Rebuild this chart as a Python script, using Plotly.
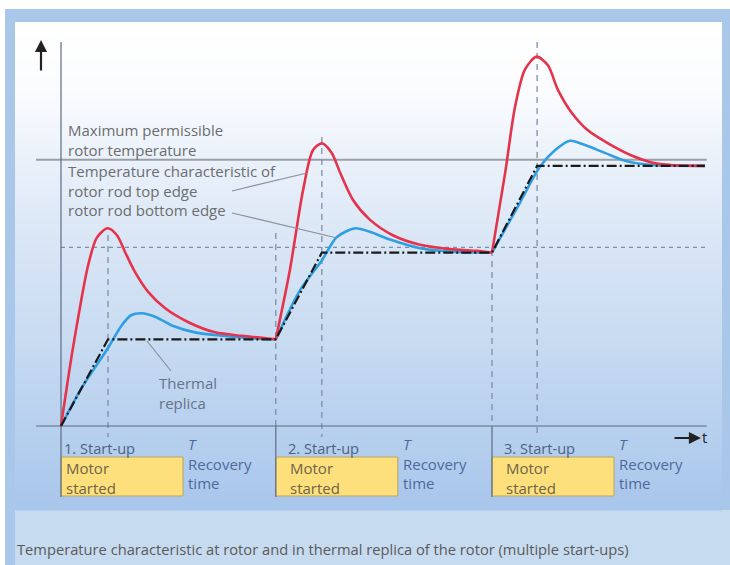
import plotly.graph_objects as go

# ---------------- data ----------------
# time in relative units (start-up ramp ~1 unit), temperature in relative units (1 step per start-up)
startups = [0.0, 4.57, 9.17]
startup_labels = ["1. Start-up", "2. Start-up", "3. Start-up"]
run_end = [1.0, 5.55, 10.13]
t_end = 13.70

red_t = [0, 0.23, 0.44, 0.58, 0.76, 0.99, 1.19, 1.36, 1.57, 1.85, 2.21, 2.70, 3.28, 3.85, 4.40, 4.57, None,
         4.57, 4.87, 5.15, 5.36, 5.55, 5.76, 5.94, 6.21, 6.57, 7.06, 7.64, 8.28, 8.85, 9.17, None,
         9.17, 9.45, 9.66, 9.87, 10.12, 10.36, 10.57, 10.87, 11.21, 11.64, 12.14, 12.57, 12.99, 13.70]
red_T = [0, 0.82, 1.48, 1.86, 2.17, 2.28, 2.20, 2.01, 1.78, 1.55, 1.36, 1.20, 1.08, 1.04, 1.01, 1.0, None,
         1.0, 1.80, 2.72, 3.18, 3.26, 3.15, 2.92, 2.61, 2.38, 2.20, 2.09, 2.04, 2.02, 2.0, None,
         2.0, 2.92, 3.68, 4.11, 4.26, 4.16, 3.88, 3.61, 3.41, 3.26, 3.12, 3.04, 3.01, 3.0]

blue_t = [0, 0.44, 1.0, 1.29, 1.50, 1.72, 2.0, 2.36, 2.85, 3.43, 4.13, 4.57, None,
          4.57, 5.09, 5.55, 5.87, 6.26, 6.57, 7.0, 7.64, 8.34, 9.17, None,
          9.17, 9.72, 10.19, 10.51, 10.83, 11.15, 11.57, 12.06, 12.57, 13.70]
blue_T = [0, 0.44, 0.90, 1.16, 1.28, 1.30, 1.26, 1.16, 1.08, 1.04, 1.01, 1.0, None,
          1.0, 1.57, 1.91, 2.18, 2.28, 2.24, 2.15, 2.05, 2.01, 2.0, None,
          2.0, 2.53, 2.99, 3.18, 3.29, 3.24, 3.15, 3.05, 3.01, 3.0]

replica_t = [0, 1.0, 4.57, 5.55, 9.17, 10.13, 13.70]
replica_T = [0, 1, 1, 2, 2, 3, 3]

max_permissible_T = 3.07
dashed_level_T = 2.06

caption = "Temperature characteristic at rotor and in thermal replica of the rotor (multiple start-ups)"

# ---------------- layout helpers ----------------
W, H = 730, 565
X0_PX, X_SCALE = 61.0, 47.0      # t = 0 at pixel 61, 47 px per unit
Y0_PX, Y_SCALE = 426.0, 86.7     # T = 0 at pixel 426, 86.7 px per unit
x_range = [-X0_PX / X_SCALE, (W - X0_PX) / X_SCALE]
y_range = [(Y0_PX - H) / Y_SCALE, Y0_PX / Y_SCALE]

def px(x):
    return x / W

def py(y):
    return 1 - y / H

def T_of(ypix):
    return (Y0_PX - ypix) / Y_SCALE

FONT = "Open Sans, Liberation Sans, Arial, sans-serif"

fig = go.Figure()

fig.add_trace(go.Scatter(x=blue_t, y=blue_T, mode="lines",
                         line=dict(color="#2f9fe2", width=2.6, shape="spline", smoothing=0.8),
                         connectgaps=False, hoverinfo="skip", name="rotor rod bottom edge"))
fig.add_trace(go.Scatter(x=red_t, y=red_T, mode="lines",
                         line=dict(color="#e5334b", width=2.6, shape="spline", smoothing=0.8),
                         connectgaps=False, hoverinfo="skip", name="rotor rod top edge"))
fig.add_trace(go.Scatter(x=replica_t, y=replica_T, mode="lines",
                         line=dict(color="#1a1a1a", width=2.2, dash="10px,3px,2px,3px"),
                         hoverinfo="skip", name="Thermal replica"))

shapes = []

# frame & background
shapes.append(dict(type="rect", xref="paper", yref="paper", x0=px(5), x1=px(730), y0=py(565), y1=py(9),
                   fillcolor="#a9c7e8", line=dict(width=0), layer="below"))
shapes.append(dict(type="rect", xref="paper", yref="paper", x0=px(15), x1=px(730), y0=py(565), y1=py(510),
                   fillcolor="#c6daf0", line=dict(width=0), layer="below"))

stops = [(22, (255, 255, 255)), (90, (251, 252, 254)), (160, (234, 241, 250)), (250, (216, 229, 245)),
         (350, (198, 218, 241)), (430, (183, 208, 238)), (510, (168, 198, 235))]

def grad_color(y):
    for (ya, ca), (yb, cb) in zip(stops[:-1], stops[1:]):
        if ya <= y <= yb:
            f = (y - ya) / (yb - ya)
            c = [round(ca[i] + (cb[i] - ca[i]) * f) for i in range(3)]
            return "rgb(%d,%d,%d)" % tuple(c)
    return "rgb(%d,%d,%d)" % stops[-1][1]

ystep = 4
yy = 22
while yy < 510:
    y2 = min(yy + ystep, 510)
    shapes.append(dict(type="rect", xref="paper", yref="paper", x0=px(15), x1=px(722),
                       y0=py(y2 + 0.6), y1=py(yy), fillcolor=grad_color((yy + y2) / 2),
                       line=dict(width=0), layer="below"))
    yy = y2

AX = "#5d6c86"
DASH = "#7f8ea8"

# maximum permissible temperature line
shapes.append(dict(type="line", xref="x", yref="y", x0=(36 - X0_PX) / X_SCALE, x1=t_end + 0.04,
                   y0=max_permissible_T, y1=max_permissible_T,
                   line=dict(color="#9b9fa6", width=2), layer="below"))
# dashed level
shapes.append(dict(type="line", xref="x", yref="y", x0=0, x1=t_end + 0.04,
                   y0=dashed_level_T, y1=dashed_level_T,
                   line=dict(color=DASH, width=1.3, dash="4px,4px"), layer="below"))

# vertical dashed lines at ramp ends
ramp_tops = [235, 137, 42]
for xe, top in zip(run_end, ramp_tops):
    shapes.append(dict(type="line", xref="x", yref="y", x0=xe, x1=xe, y0=T_of(top), y1=T_of(437),
                       line=dict(color=DASH, width=1.3, dash="6px,5px"), layer="below"))
# vertical dashed at start-ups 2 and 3
start_tops = [233, 250]
for xs, top in zip(startups[1:], start_tops):
    shapes.append(dict(type="line", xref="x", yref="y", x0=xs, x1=xs, y0=T_of(top), y1=0,
                       line=dict(color=DASH, width=1.3, dash="6px,5px"), layer="below"))
    shapes.append(dict(type="line", xref="x", yref="y", x0=xs, x1=xs, y0=0, y1=T_of(497),
                       line=dict(color=AX, width=1.2), layer="below"))

# axes
shapes.append(dict(type="line", xref="x", yref="y", x0=0, x1=0, y0=T_of(42), y1=T_of(497),
                   line=dict(color=AX, width=1.2), layer="below"))
shapes.append(dict(type="line", xref="x", yref="y", x0=(36 - X0_PX) / X_SCALE, x1=t_end + 0.04, y0=0, y1=0,
                   line=dict(color=AX, width=1.2), layer="below"))

# boxes "Motor started"
box_w = 122 / X_SCALE
for xs in startups:
    shapes.append(dict(type="rect", xref="x", yref="paper", x0=xs, x1=xs + box_w, y0=py(496), y1=py(457),
                       fillcolor="#fde07c", line=dict(color="#b9a45e", width=1), layer="below"))

# leader lines
leaders = [((232, 191), (307, 173)), ((232, 213), (337, 238)), ((171, 371), (147, 341))]
for (xa, ya), (xb, yb) in leaders:
    shapes.append(dict(type="line", xref="paper", yref="paper", x0=px(xa), y0=py(ya), x1=px(xb), y1=py(yb),
                       line=dict(color="#8a8f98", width=1.2)))

annotations = []

def text(x, y, s, size=15, color="#6a6a6a", xref="paper", xshift=0):
    annotations.append(dict(x=x if xref != "paper" else px(x), y=py(y), xref=xref, yref="paper",
                            text=s, showarrow=False, align="left",
                            xanchor="left", yanchor="middle", xshift=xshift,
                            font=dict(family=FONT, size=size, color=color)))

text(66, 140, "Maximum permissible<br>rotor temperature", color="#6b6d70")
text(66, 190, "Temperature characteristic of<br>rotor rod top edge<br>rotor rod bottom edge", color="#6b6d70")
text(157, 393, "Thermal<br>replica", color="#647489")

label_shift = [1, 10, 10]
for xs, lab, sh in zip(startups, startup_labels, label_shift):
    text(xs, 448, lab, size=14.6, color="#4e6185", xref="x", xshift=sh)
    text(xs, 478, "Motor<br>started", color="#6e6447", xref="x", xshift=sh + 2)
    text(xs + box_w, 463, "<i>T</i><br>Recovery<br>time", size=15, color="#4e6a9c", xref="x", xshift=3)

text(700, 437, "t", size=15, color="#222222")
text(15, 549, caption, size=14.7, color="#5a5a5a")

# arrows
annotations.append(dict(x=px(41), y=py(40), xref="paper", yref="paper", ax=0, ay=32, text="",
                        showarrow=True, arrowhead=2, arrowsize=1.1, arrowwidth=2.2, arrowcolor="#222222"))
annotations.append(dict(x=px(701), y=py(438), xref="paper", yref="paper", ax=-28, ay=0, text="",
                        showarrow=True, arrowhead=2, arrowsize=1.1, arrowwidth=2.2, arrowcolor="#222222"))

fig.update_layout(
    width=W, height=H, autosize=False,
    margin=dict(l=0, r=0, t=0, b=0, pad=0),
    paper_bgcolor="white", plot_bgcolor="rgba(0,0,0,0)",
    showlegend=False,
    xaxis=dict(range=x_range, visible=False, fixedrange=True),
    yaxis=dict(range=y_range, visible=False, fixedrange=True),
    shapes=shapes, annotations=annotations,
)

fig.write_html("out.html", config={"displayModeBar": False},
               post_script="document.body.style.margin='0';document.body.style.overflow='hidden';")
